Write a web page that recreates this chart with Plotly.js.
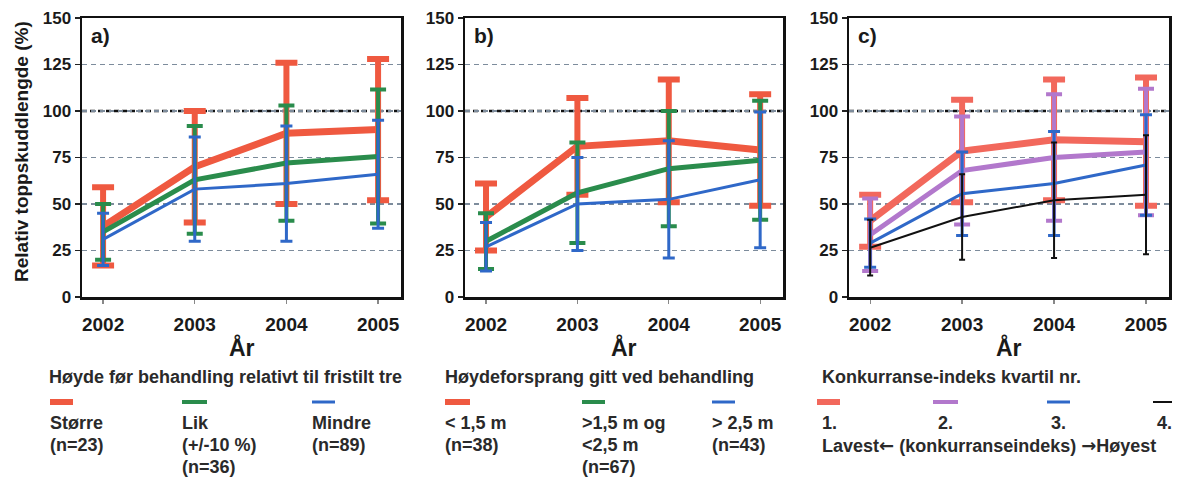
<!DOCTYPE html>
<html>
<head>
<meta charset="utf-8">
<script src="https://cdn.plot.ly/plotly-3.0.1.min.js"></script>
<style>
  html, body { margin: 0; padding: 0; background: #ffffff; }
  #chart { width: 1180px; height: 479px; }
</style>
</head>
<body>
<div id="chart"></div>
<script>
// Years measured after treatment
const years = [2002, 2003, 2004, 2005];

// a) Height before treatment relative to an open-grown tree
const aStorreMean = [38, 70, 88, 90];
const aStorreErr  = [21, 30, 38, 38];
const aLikMean    = [35, 63, 72, 75.5];
const aLikErr     = [15, 29, 31, 36];
const aMindreMean = [31, 58, 61, 66];
const aMindreErr  = [14, 28, 31, 29];

// b) Height advantage given at treatment
const bUnder15Mean = [43, 81, 84, 79];
const bUnder15Err  = [18, 26, 33, 30];
const bMellomMean  = [30, 56, 69, 73.5];
const bMellomErr   = [15, 27, 31, 32];
const bOver25Mean  = [27, 50, 52.5, 63];
const bOver25Err   = [13, 25, 31.5, 36.5];

// c) Competition index quartile
const cK1Mean = [41, 78.5, 84.5, 83.5];
const cK1Err  = [14, 27.5, 32.5, 34.5];
const cK2Mean = [33.5, 68, 75, 78];
const cK2Err  = [19.5, 29, 34, 34];
const cK3Mean = [29, 55.5, 61, 71];
const cK3Err  = [13, 22.5, 28, 27];
const cK4Mean = [26.5, 43, 52, 55];
const cK4Err  = [15, 23, 31, 32];

// Axis text
const yTicks = [0, 25, 50, 75, 100, 125, 150];
const yTitle = 'Relativ toppskuddlengde (%)';
const xTitle = 'År';
const panelLabels = ['a)', 'b)', 'c)'];

// Legend texts
const legendTitles = [
  'Høyde før behandling relativt til fristilt tre',
  'Høydeforsprang gitt ved behandling',
  'Konkurranse-indeks kvartil nr.'
];
const legendA = [['Større', '(n=23)'], ['Lik', '(+/-10 %)', '(n=36)'], ['Mindre', '(n=89)']];
const legendB = [['< 1,5 m', '(n=38)'], ['>1,5 m og', '<2,5 m', '(n=67)'], ['> 2,5 m', '(n=43)']];
const legendC = ['1.', '2.', '3.', '4.'];
const legendCScale = ['Lavest', '←', ' (konkurranseindeks) ', '→', 'Høyest'];

// Colours and line weights per group
const RED = '#ef5940', GREEN = '#2a8c4c', BLUE = '#2f68c8', PURPLE = '#b278cc', BLACK = '#111111';
const PINK = '#f2685c';

const W = 1180, H = 479;
const px = v => v / W;
const py = v => 1 - v / H;

function series(xa, ya, y, err, color, lw, capW, capT) {
  return {
    x: years, y: y, xaxis: xa, yaxis: ya, type: 'scatter', mode: 'lines',
    line: { color: color, width: lw },
    error_y: { type: 'data', array: err, visible: true, color: color, thickness: capT, width: capW },
    hoverinfo: 'skip', showlegend: false
  };
}

const data = [
  series('x', 'y', aStorreMean, aStorreErr, RED, 7, 11, 6),
  series('x', 'y', aLikMean, aLikErr, GREEN, 5, 8, 4),
  series('x', 'y', aMindreMean, aMindreErr, BLUE, 3, 6, 3),

  series('x2', 'y2', bUnder15Mean, bUnder15Err, RED, 7, 11, 6),
  series('x2', 'y2', bMellomMean, bMellomErr, GREEN, 5, 8, 4),
  series('x2', 'y2', bOver25Mean, bOver25Err, BLUE, 3, 6, 3),

  series('x3', 'y3', cK1Mean, cK1Err, PINK, 7, 11, 6),
  series('x3', 'y3', cK2Mean, cK2Err, PURPLE, 5, 8, 4),
  series('x3', 'y3', cK3Mean, cK3Err, BLUE, 3, 6, 3),
  series('x3', 'y3', cK4Mean, cK4Err, BLACK, 2, 3, 2)
];

const FONT = 'Liberation Sans, Arial, sans-serif';
const yDomain = [py(297), py(18)];

function xAxis(d0, d1, anchor) {
  return {
    domain: [px(d0), px(d1)], anchor: anchor, range: [2001.77, 2005.25],
    tickvals: years, ticktext: years.map(String), ticks: 'outside', ticklen: 4, tickwidth: 1.2,
    tickcolor: '#888888', ticklabelstandoff: 5,
    tickfont: { family: FONT, size: 19, color: '#1a1a1a', weight: 'bold' },
    showline: true, linecolor: '#111111', linewidth: 2.5, mirror: true,
    showgrid: false, zeroline: false, fixedrange: true
  };
}
function yAxis(anchor) {
  return {
    domain: yDomain, anchor: anchor, range: [0, 150],
    tickvals: yTicks, ticks: 'outside', ticklen: 5, tickwidth: 1.5, tickcolor: '#222222',
    tickfont: { family: FONT, size: 17, color: '#1a1a1a', weight: 'bold' },
    showline: true, linecolor: '#111111', linewidth: 2.5, mirror: true,
    showgrid: true, gridcolor: '#7d8c9c', gridwidth: 1.4, griddash: '5px,4px',
    zeroline: false, fixedrange: true
  };
}

const panels = [[82, 401, 'x', 'y'], [465, 783, 'x2', 'y2'], [849, 1169, 'x3', 'y3']];

const shapes = [];
const annotations = [];

panels.forEach((p, i) => {
  // reference line at 100 %
  shapes.push({
    type: 'line', xref: p[2] + ' domain', yref: p[3], x0: 0, x1: 1, y0: 100, y1: 100,
    line: { color: '#111111', width: 2.6, dash: '5px,3px' }, layer: 'below'
  });
  annotations.push({
    text: panelLabels[i], xref: 'paper', yref: 'paper', x: px(p[0] + 7), y: py(36),
    xanchor: 'left', yanchor: 'middle', showarrow: false,
    font: { family: FONT, size: 21, color: '#1a1a1a', weight: 'bold' }
  });
  annotations.push({
    text: xTitle, xref: 'paper', yref: 'paper', x: px((p[0] + p[1]) / 2), y: py(347),
    xanchor: 'center', yanchor: 'middle', showarrow: false,
    font: { family: FONT, size: 23, color: '#1a1a1a', weight: 'bold' }
  });
});

annotations.push({
  text: yTitle, xref: 'paper', yref: 'paper', x: px(21), y: py(152), textangle: -90,
  xanchor: 'center', yanchor: 'middle', showarrow: false,
  font: { family: FONT, size: 19, color: '#1a1a1a', weight: 'bold' }
});

// Legend blocks below each panel
const LFONT = { family: FONT, size: 18, color: '#2a2a2a', weight: 'bold' };
function label(text, x, y, anchor) {
  annotations.push({
    text: text, xref: 'paper', yref: 'paper', x: px(x), y: py(y),
    xanchor: anchor || 'left', yanchor: 'middle', showarrow: false, font: LFONT
  });
}
function swatch(x0, x1, y, color, h) {
  shapes.push({
    type: 'line', xref: 'paper', yref: 'paper', x0: px(x0), x1: px(x1), y0: py(y), y1: py(y),
    line: { color: color, width: h }
  });
}
const rowY = [423, 445, 467];

label(legendTitles[0], 47, 377);
[[50, 73, RED, 6], [182, 207, GREEN, 4], [312, 335, BLUE, 3]].forEach((s, k) => {
  swatch(s[0], s[1], 402, s[2], s[3]);
  legendA[k].forEach((t, r) => label(t, s[0] - 2, rowY[r]));
});

label(legendTitles[1], 443, 377);
[[445, 470, RED, 6], [582, 605, GREEN, 4], [712, 735, BLUE, 3]].forEach((s, k) => {
  swatch(s[0], s[1], 402, s[2], s[3]);
  legendB[k].forEach((t, r) => label(t, s[0] - 2, rowY[r]));
});

label(legendTitles[2], 820, 377);
const cSw = [[817, 840, PINK, 6], [933, 958, PURPLE, 4], [1047, 1070, BLUE, 3], [1153, 1172, BLACK, 2]];
cSw.forEach((s, k) => swatch(s[0], s[1], 402, s[2], s[3]));
label(legendC[0], 820, rowY[0]);
label(legendC[1], 945, rowY[0], 'center');
label(legendC[2], 1058, rowY[0], 'center');
label(legendC[3], 1174, rowY[0], 'right');
// scale line; the arrows come from DejaVu Sans so they keep a full-size glyph
const arrow = a => '<span style="font-family:DejaVu Sans;font-weight:bold">' + a + '</span>';
label(legendCScale[0] + arrow(legendCScale[1]) + legendCScale[2] + arrow(legendCScale[3]) + legendCScale[4],
      820, rowY[1]);

const layout = {
  width: W, height: H,
  margin: { l: 0, r: 0, t: 0, b: 0 },
  paper_bgcolor: '#ffffff', plot_bgcolor: '#ffffff',
  showlegend: false,
  xaxis: xAxis(82, 401, 'y'),
  xaxis2: xAxis(465, 783, 'y2'),
  xaxis3: xAxis(849, 1169, 'y3'),
  yaxis: yAxis('x'),
  yaxis2: yAxis('x2'),
  yaxis3: yAxis('x3'),
  shapes: shapes,
  annotations: annotations
};

Plotly.newPlot('chart', data, layout, { displayModeBar: false, staticPlot: true });
</script>
</body>
</html>
